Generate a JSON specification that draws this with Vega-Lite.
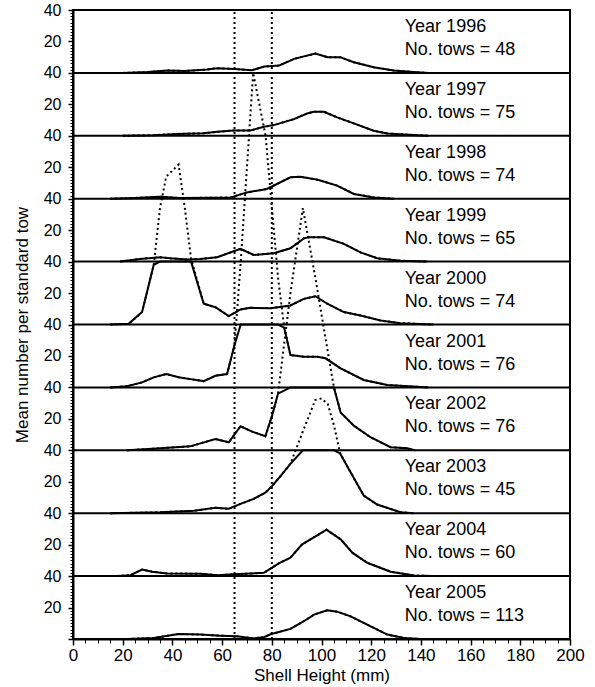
{
  "$schema": "https://vega.github.io/schema/vega-lite/v6.json",
  "width": 497,
  "height": 629,
  "autosize": {"type": "none"},
  "padding": {"left": 73, "top": 10, "right": 25, "bottom": 48},
  "background": "white",
  "config": {
    "font": "Liberation Sans",
    "view": {"stroke": "black", "strokeWidth": 2},
    "axis": {"domainColor": "black", "domainWidth": 2, "tickColor": "black", "labelColor": "black", "titleColor": "black", "titleFontWeight": "normal", "grid": false, "labelOverlap": false, "labelFlush": false}
  },
  "datasets": {
    "dist": [
      {"year":1996,"size":20,"count":0},{"year":1996,"size":30,"count":0.5},{"year":1996,"size":38,"count":1.5},{"year":1996,"size":45,"count":1.2},{"year":1996,"size":54,"count":2.1},{"year":1996,"size":58,"count":3},{"year":1996,"size":65,"count":2.5},{"year":1996,"size":72,"count":1.7},{"year":1996,"size":77,"count":4},{"year":1996,"size":83,"count":4.7},{"year":1996,"size":89,"count":8.9},{"year":1996,"size":97.5,"count":12.3},{"year":1996,"size":102.5,"count":10},{"year":1996,"size":107.5,"count":10},{"year":1996,"size":113,"count":6.8},{"year":1996,"size":121,"count":3.6},{"year":1996,"size":129,"count":1.5},{"year":1996,"size":138.5,"count":0.4},{"year":1996,"size":143,"count":0},
      {"year":1997,"size":20,"count":0},{"year":1997,"size":32.5,"count":0.4},{"year":1997,"size":42,"count":1.2},{"year":1997,"size":52.5,"count":1.6},{"year":1997,"size":58,"count":2.5},{"year":1997,"size":64.7,"count":3.4},{"year":1997,"size":71.4,"count":3.4},{"year":1997,"size":76.8,"count":5.7},{"year":1997,"size":80.8,"count":6.8},{"year":1997,"size":88.9,"count":10.6},{"year":1997,"size":94.2,"count":14.2},{"year":1997,"size":97,"count":15.3},{"year":1997,"size":101,"count":15.3},{"year":1997,"size":106.3,"count":11.7},{"year":1997,"size":113,"count":7.9},{"year":1997,"size":121,"count":3.2},{"year":1997,"size":126.5,"count":1.5},{"year":1997,"size":138.5,"count":0.4},{"year":1997,"size":143,"count":0},
      {"year":1998,"size":15,"count":0},{"year":1998,"size":25,"count":0.5},{"year":1998,"size":35,"count":1.3},{"year":1998,"size":43,"count":0.4},{"year":1998,"size":55,"count":0.6},{"year":1998,"size":63.5,"count":0.8},{"year":1998,"size":70,"count":4},{"year":1998,"size":78,"count":6.2},{"year":1998,"size":87.5,"count":13.6},{"year":1998,"size":91.5,"count":14},{"year":1998,"size":98.5,"count":12},{"year":1998,"size":106.3,"count":8.3},{"year":1998,"size":113,"count":3},{"year":1998,"size":121,"count":0.8},{"year":1998,"size":129,"count":0},
      {"year":1999,"size":19,"count":0},{"year":1999,"size":27,"count":1.7},{"year":1999,"size":35,"count":2.8},{"year":1999,"size":39,"count":2.1},{"year":1999,"size":46,"count":1.3},{"year":1999,"size":51.3,"count":1.7},{"year":1999,"size":58,"count":2.8},{"year":1999,"size":67.4,"count":8.1},{"year":1999,"size":72.7,"count":4.2},{"year":1999,"size":80.8,"count":5.3},{"year":1999,"size":87.5,"count":8.5},{"year":1999,"size":92.9,"count":14.8},{"year":1999,"size":95,"count":15.5},{"year":1999,"size":101,"count":15.5},{"year":1999,"size":109,"count":11.3},{"year":1999,"size":115.7,"count":5.9},{"year":1999,"size":122.4,"count":2.1},{"year":1999,"size":131.8,"count":0.6},{"year":1999,"size":142.6,"count":0},
      {"year":2000,"size":15,"count":0},{"year":2000,"size":22.4,"count":0.4},{"year":2000,"size":27.8,"count":7.9},{"year":2000,"size":32.5,"count":38},{"year":2000,"size":35,"count":74},{"year":2000,"size":37.5,"count":94},{"year":2000,"size":42.5,"count":101.7},{"year":2000,"size":45,"count":74},{"year":2000,"size":47.5,"count":42},{"year":2000,"size":52.6,"count":13.2},{"year":2000,"size":57.3,"count":11},{"year":2000,"size":62.7,"count":5.3},{"year":2000,"size":67.4,"count":9.6},{"year":2000,"size":71.4,"count":10.6},{"year":2000,"size":79.5,"count":10.4},{"year":2000,"size":87.5,"count":12.1},{"year":2000,"size":92.9,"count":16.3},{"year":2000,"size":97.6,"count":18},{"year":2000,"size":102.3,"count":13.2},{"year":2000,"size":109,"count":7.9},{"year":2000,"size":115.7,"count":5.7},{"year":2000,"size":123.8,"count":2.5},{"year":2000,"size":131.8,"count":0.8},{"year":2000,"size":145,"count":0},
      {"year":2001,"size":15,"count":0},{"year":2001,"size":21.7,"count":0.8},{"year":2001,"size":27.8,"count":3.2},{"year":2001,"size":32.5,"count":6.4},{"year":2001,"size":37.6,"count":8.5},{"year":2001,"size":42.5,"count":6.4},{"year":2001,"size":47.9,"count":5.1},{"year":2001,"size":52.6,"count":4},{"year":2001,"size":57.3,"count":7.4},{"year":2001,"size":62,"count":8.5},{"year":2001,"size":65,"count":27},{"year":2001,"size":67.5,"count":80},{"year":2001,"size":70,"count":140},{"year":2001,"size":72.5,"count":200},{"year":2001,"size":77.5,"count":160},{"year":2001,"size":82.5,"count":70},{"year":2001,"size":85,"count":38},{"year":2001,"size":87.5,"count":20.6},{"year":2001,"size":92.9,"count":19.5},{"year":2001,"size":98.3,"count":19.5},{"year":2001,"size":101.6,"count":18.5},{"year":2001,"size":107.7,"count":12.1},{"year":2001,"size":117,"count":4.7},{"year":2001,"size":126.5,"count":1.5},{"year":2001,"size":138.5,"count":0.4},{"year":2001,"size":143,"count":0},
      {"year":2002,"size":21.7,"count":0},{"year":2002,"size":35.2,"count":1.3},{"year":2002,"size":47.2,"count":2.5},{"year":2002,"size":57.3,"count":7.2},{"year":2002,"size":62.7,"count":5.1},{"year":2002,"size":67.4,"count":15.3},{"year":2002,"size":72.1,"count":11.9},{"year":2002,"size":77.4,"count":8.9},{"year":2002,"size":80.1,"count":22},{"year":2002,"size":82.5,"count":36},{"year":2002,"size":87.5,"count":100},{"year":2002,"size":92.5,"count":154},{"year":2002,"size":97.5,"count":110},{"year":2002,"size":102.5,"count":63},{"year":2002,"size":105,"count":40},{"year":2002,"size":107.7,"count":24},{"year":2002,"size":113,"count":15.7},{"year":2002,"size":119.7,"count":8.3},{"year":2002,"size":127.8,"count":2},{"year":2002,"size":134.5,"count":1.3},{"year":2002,"size":137.5,"count":0},
      {"year":2003,"size":15,"count":0},{"year":2003,"size":35,"count":0.6},{"year":2003,"size":48.6,"count":1.5},{"year":2003,"size":57.3,"count":3.4},{"year":2003,"size":62.7,"count":2.8},{"year":2003,"size":67.4,"count":5.9},{"year":2003,"size":72.7,"count":9.1},{"year":2003,"size":77.4,"count":13},{"year":2003,"size":80.1,"count":17.2},{"year":2003,"size":83.5,"count":23.6},{"year":2003,"size":87.5,"count":31.4},{"year":2003,"size":92.5,"count":52},{"year":2003,"size":97.5,"count":72},{"year":2003,"size":100,"count":73},{"year":2003,"size":102.5,"count":69.5},{"year":2003,"size":105,"count":56},{"year":2003,"size":107.5,"count":38},{"year":2003,"size":111.7,"count":26},{"year":2003,"size":117,"count":11.2},{"year":2003,"size":122.4,"count":5.5},{"year":2003,"size":131.8,"count":0.6},{"year":2003,"size":137,"count":0},
      {"year":2004,"size":17.7,"count":0},{"year":2004,"size":23.1,"count":0.6},{"year":2004,"size":27.8,"count":4.2},{"year":2004,"size":31.8,"count":2.8},{"year":2004,"size":37.9,"count":1.7},{"year":2004,"size":51.3,"count":1.5},{"year":2004,"size":58,"count":0.6},{"year":2004,"size":64.7,"count":1.1},{"year":2004,"size":76.8,"count":2.1},{"year":2004,"size":79.5,"count":4.7},{"year":2004,"size":82.8,"count":8.1},{"year":2004,"size":87.5,"count":11.7},{"year":2004,"size":92.2,"count":20.2},{"year":2004,"size":98.3,"count":25.9},{"year":2004,"size":102,"count":29.5},{"year":2004,"size":107.7,"count":23.4},{"year":2004,"size":112.4,"count":14.9},{"year":2004,"size":118.4,"count":8.5},{"year":2004,"size":127.8,"count":2.8},{"year":2004,"size":137.2,"count":0.4},{"year":2004,"size":145,"count":0},
      {"year":2005,"size":21.7,"count":0},{"year":2005,"size":32.5,"count":0.6},{"year":2005,"size":42.5,"count":3.2},{"year":2005,"size":51.3,"count":2.8},{"year":2005,"size":59.3,"count":2.1},{"year":2005,"size":66,"count":1.7},{"year":2005,"size":72.7,"count":0.4},{"year":2005,"size":76.8,"count":1.1},{"year":2005,"size":79.5,"count":3},{"year":2005,"size":87.5,"count":6.4},{"year":2005,"size":92.9,"count":11.3},{"year":2005,"size":97,"count":15.5},{"year":2005,"size":102.3,"count":18.3},{"year":2005,"size":106.3,"count":17.4},{"year":2005,"size":111.7,"count":14.4},{"year":2005,"size":118.4,"count":9.1},{"year":2005,"size":126.5,"count":2.8},{"year":2005,"size":133.2,"count":0.6},{"year":2005,"size":140,"count":0}
    ],
    "info": [
      {"year":1996,"tows":48},{"year":1997,"tows":75},{"year":1998,"tows":74},{"year":1999,"tows":65},{"year":2000,"tows":74},
      {"year":2001,"tows":76},{"year":2002,"tows":76},{"year":2003,"tows":45},{"year":2004,"tows":60},{"year":2005,"tows":113}
    ],
    "refs": [{"size":65},{"size":80}]
  },
  "layer": [
    {
      "data": {"name": "info"},
      "transform": [{"calculate": "(2005 - datum.year) * 40 + 40", "as": "top"}],
      "mark": {"type": "rule", "color": "black", "strokeWidth": 2},
      "encoding": {
        "y": {"field": "top", "type": "quantitative", "scale": {"domain": [0, 400], "nice": false, "zero": false},
          "axis": {
            "title": "Mean number per standard tow",
            "titleFontSize": 17, "titlePadding": 12,
            "labelFontSize": 16, "labelPadding": 7, "labelOverlap": false, "labelBound": false,
            "tickCount": 1000, "format": "d",
            "values": [0,2,4,6,8,10,12,14,16,18,20,22,24,26,28,30,32,34,36,38,40,42,44,46,48,50,52,54,56,58,60,62,64,66,68,70,72,74,76,78,80,82,84,86,88,90,92,94,96,98,100,102,104,106,108,110,112,114,116,118,120,122,124,126,128,130,132,134,136,138,140,142,144,146,148,150,152,154,156,158,160,162,164,166,168,170,172,174,176,178,180,182,184,186,188,190,192,194,196,198,200,202,204,206,208,210,212,214,216,218,220,222,224,226,228,230,232,234,236,238,240,242,244,246,248,250,252,254,256,258,260,262,264,266,268,270,272,274,276,278,280,282,284,286,288,290,292,294,296,298,300,302,304,306,308,310,312,314,316,318,320,322,324,326,328,330,332,334,336,338,340,342,344,346,348,350,352,354,356,358,360,362,364,366,368,370,372,374,376,378,380,382,384,386,388,390,392,394,396,398,400],
            "labelExpr": "datum.value === 0 ? '' : (datum.value % 40 === 0 ? '40' : (datum.value % 20 === 0 ? '20' : ''))",
            "tickSize": {"condition": {"test": "datum.value % 20 === 0", "value": 5}, "value": 3},
            "tickWidth": {"condition": {"test": "datum.value % 20 === 0", "value": 1.5}, "value": 1}
          }},
        "x": {"datum": 0, "type": "quantitative", "scale": {"domain": [0, 200], "nice": false, "zero": false},
          "axis": {
            "title": "Shell Height (mm)",
            "titleFontSize": 17, "titlePadding": 4,
            "labelFontSize": 17, "labelPadding": 2, "labelOverlap": false,
            "tickCount": 1000, "format": "d",
            "values": [0,5,10,15,20,25,30,35,40,45,50,55,60,65,70,75,80,85,90,95,100,105,110,115,120,125,130,135,140,145,150,155,160,165,170,175,180,185,190,195,200],
            "labelExpr": "datum.value % 20 === 0 ? datum.label : ''",
            "tickSize": {"condition": {"test": "datum.value % 20 === 0", "value": 6}, "value": 4},
            "tickWidth": {"condition": {"test": "datum.value % 20 === 0", "value": 1.5}, "value": 1}
          }},
        "x2": {"datum": 200}
      }
    },
    {
      "data": {"name": "refs"},
      "mark": {"type": "rule", "color": "black", "strokeWidth": 2, "strokeDash": [2, 3]},
      "encoding": {
        "x": {"field": "size", "type": "quantitative"},
        "y": {"datum": 0, "type": "quantitative"},
        "y2": {"datum": 400}
      }
    },
    {
      "data": {"name": "dist"},
      "transform": [{"calculate": "(2005 - datum.year) * 40 + datum.count", "as": "yy"}],
      "mark": {"type": "line", "color": "black", "strokeWidth": 2, "strokeDash": [2, 3]},
      "encoding": {
        "x": {"field": "size", "type": "quantitative"},
        "y": {"field": "yy", "type": "quantitative"},
        "detail": {"field": "year", "type": "nominal"}
      }
    },
    {
      "data": {"name": "dist"},
      "transform": [{"calculate": "(2005 - datum.year) * 40 + min(datum.count, 40)", "as": "yc"}],
      "mark": {"type": "line", "color": "black", "strokeWidth": 2},
      "encoding": {
        "x": {"field": "size", "type": "quantitative"},
        "y": {"field": "yc", "type": "quantitative"},
        "detail": {"field": "year", "type": "nominal"}
      }
    },
    {
      "data": {"name": "info"},
      "transform": [
        {"calculate": "(2005 - datum.year) * 40 + 40", "as": "ty"},
        {"calculate": "['Year ' + datum.year, 'No. tows = ' + datum.tows]", "as": "label"}
      ],
      "mark": {"type": "text", "align": "left", "baseline": "top", "fontSize": 18, "lineHeight": 23, "dy": 8, "color": "black", "font": "Liberation Sans"},
      "encoding": {
        "x": {"datum": 133.5, "type": "quantitative"},
        "y": {"field": "ty", "type": "quantitative"},
        "text": {"field": "label"}
      }
    }
  ]
}
